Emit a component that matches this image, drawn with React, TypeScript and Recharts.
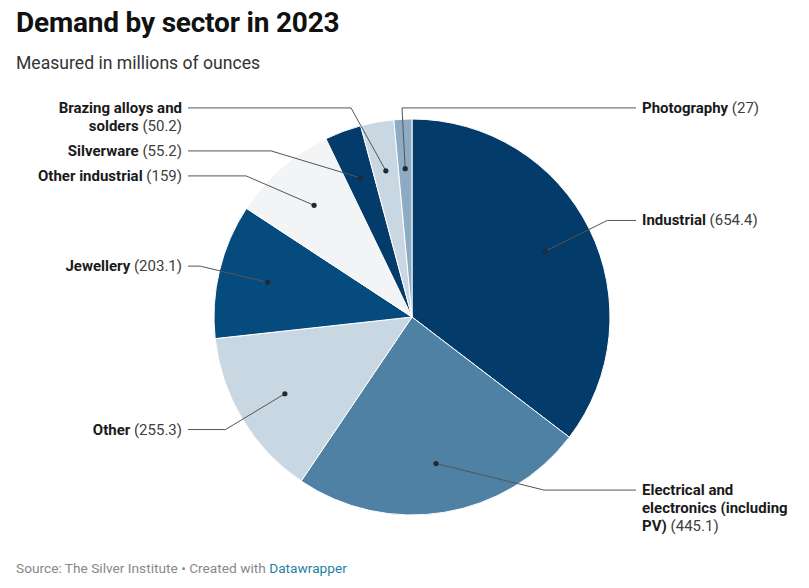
import React from 'react';
import { PieChart, Pie, Cell } from 'recharts';

const sectors = ['Industrial', 'Electrical and electronics (including PV)', 'Other', 'Jewellery', 'Other industrial', 'Silverware', 'Brazing alloys and solders', 'Photography'];
const demand = [654.4, 445.1, 255.3, 203.1, 159, 55.2, 50.2, 27];
const colors = ['#033b6a', '#4e81a3', '#c8d7e1', '#064b7e', '#f2f4f6', '#033b6a', '#c8d7e1', '#8dabc2'];

const data = sectors.map((name, i) => ({ name, value: demand[i] }));

const CX = 412;
const CY = 317;
const R = 198;
const R2 = R * 1.1;
const LINE_H = 18;
const GAP = 7;
const LIMIT = R2 * 0.96;
const END = 224;

const wrap = (name: string, value: number) => {
  const words = [
    ...name.split(' ').map((w) => ({ w, bold: true })),
    { w: `(${value})`, bold: false },
  ];
  const lines: { w: string; bold: boolean }[][] = [];
  let cur: { w: string; bold: boolean }[] = [];
  let len = 0;
  for (const word of words) {
    const add = (cur.length ? 1 : 0) + word.w.length;
    if (cur.length && len + add > 22) {
      lines.push(cur);
      cur = [word];
      len = word.w.length;
    } else {
      cur.push(word);
      len += add;
    }
  }
  if (cur.length) lines.push(cur);
  return lines;
};

// label placement: natural height on the elbow circle, then pushed apart per side
const total = demand.reduce((a, b) => a + b, 0);
const layout = (() => {
  let acc = 0;
  const items = demand.map((v, i) => {
    const a = ((acc + v / 2) / total) * 2 * Math.PI;
    acc += v;
    const lines = wrap(sectors[i], v);
    return { i, right: Math.sin(a) > -0.1, y: CY - Math.cos(a) * R2, lines: lines.length };
  });
  for (const right of [true, false]) {
    const side = items.filter((d) => d.right === right).sort((a, b) => a.y - b.y);
    let prev: typeof side[0] | null = null;
    for (const d of side) {
      d.y = Math.max(d.y, CY - LIMIT, prev ? prev.y + prev.lines * LINE_H + GAP : -1e9);
      prev = d;
    }
    let next: typeof side[0] | null = null;
    for (const d of [...side].reverse()) {
      d.y = Math.min(d.y, CY + LIMIT - (d.lines - 1) * LINE_H, next ? next.y - d.lines * LINE_H - GAP : 1e9);
      next = d;
    }
  }
  const out: { right: boolean; y: number }[] = [];
  items.forEach((d) => (out[d.i] = { right: d.right, y: d.y }));
  return out;
})();

const renderLabel = (props: any) => {
  const { cx, cy, midAngle, outerRadius, index } = props;
  const rad = Math.PI / 180;
  const ux = Math.cos(-midAngle * rad);
  const uy = Math.sin(-midAngle * rad);
  const dotX = cx + ux * outerRadius * 0.75;
  const dotY = cy + uy * outerRadius * 0.75;
  const { right, y } = layout[index];
  const r2 = outerRadius * 1.1;
  const sameSide = (right && ux >= 0) || (!right && ux < 0);
  const half = Math.sqrt(Math.max(0, r2 * r2 - (y - cy) * (y - cy)));
  const elbowX = sameSide ? cx + (right ? half : -half) : cx + ux * r2;
  const endX = right ? cx + END : cx - END;
  const textX = right ? endX + 6 : endX - 6;
  const lines = wrap(data[index].name, data[index].value);
  return (
    <g key={`lbl-${index}`}>
      <polyline points={`${dotX},${dotY} ${elbowX},${y} ${endX},${y}`} fill="none" stroke="#555" strokeWidth={1} />
      <circle cx={dotX} cy={dotY} r={2.6} fill="#1e2a36" />
      <text x={textX} y={y} textAnchor={right ? 'start' : 'end'} dominantBaseline="central" fontSize={15} fontFamily="Roboto, sans-serif">
        {lines.map((line, li) => (
          <tspan key={li} x={textX} dy={li === 0 ? 0 : LINE_H}>
            {line.map((word, wi) => (
              <tspan key={wi} fontWeight={word.bold ? 700 : 400} fill={word.bold ? '#1a1a1a' : '#404040'}>
                {(wi > 0 ? ' ' : '') + word.w}
              </tspan>
            ))}
          </tspan>
        ))}
      </text>
    </g>
  );
};

export default function App() {
  return (
    <div style={{ position: 'absolute', left: 0, top: 0, width: 809, height: 588, background: '#fff', fontFamily: 'Roboto, sans-serif' }}>
      <div style={{ position: 'absolute', left: 16, top: 6, fontSize: 28, fontWeight: 700, color: '#111', letterSpacing: -0.2 }}>
        Demand by sector in 2023
      </div>
      <div style={{ position: 'absolute', left: 16, top: 53, fontSize: 17.6, color: '#333' }}>
        Measured in millions of ounces
      </div>
      <div style={{ position: 'absolute', left: 0, top: 0 }}>
        <PieChart width={809} height={588} margin={{ top: 0, right: 0, bottom: 0, left: 0 }}>
          <Pie
            data={data}
            dataKey="value"
            nameKey="name"
            cx={CX}
            cy={CY}
            outerRadius={R}
            startAngle={90}
            endAngle={-270}
            stroke="#fff"
            strokeWidth={1}
            label={renderLabel}
            labelLine={false}
            isAnimationActive={false}
          >
            {data.map((d, i) => (
              <Cell key={d.name} fill={colors[i]} />
            ))}
          </Pie>
        </PieChart>
      </div>
      <div style={{ position: 'absolute', left: 16, top: 560, fontSize: 13.7, color: '#888' }}>
        Source: The Silver Institute • Created with <span style={{ color: '#1d81a2' }}>Datawrapper</span>
      </div>
    </div>
  );
}
